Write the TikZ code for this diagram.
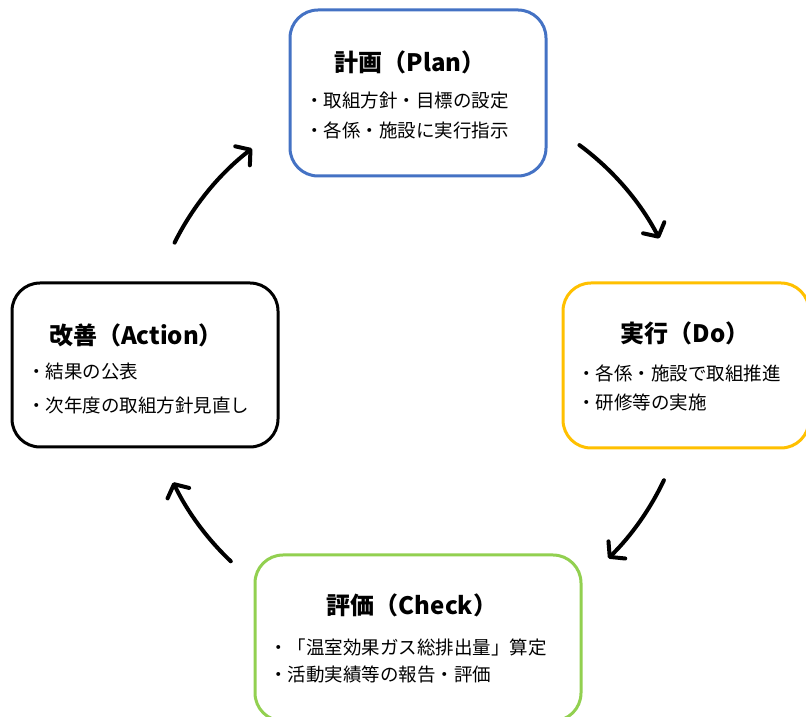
\documentclass[tikz,border=0pt]{standalone}
\usepackage{fontspec}
\setmainfont{Noto Sans CJK JP}
\usetikzlibrary{arrows.meta}
\definecolor{planblue}{HTML}{4472C4}
\definecolor{doyellow}{HTML}{FFC000}
\definecolor{checkgreen}{HTML}{92D050}
\tikzset{
  pbox/.style={draw=#1, line width=3pt, rounded corners=28pt, rectangle, inner sep=0pt, fill=white},
  ttl/.style={font=\fontsize{24}{28}\selectfont\bfseries, inner sep=0pt, anchor=center},
  itm/.style={font=\fontsize{18.5}{22}\selectfont, inner sep=0pt, anchor=west},
  cyc/.style={line width=4pt, line cap=round, -{Straight Barb[length=10pt,width=24pt,line width=4pt,line cap=round,round]}}
}
\begin{document}
\begin{tikzpicture}[x=1pt,y=1pt]
\useasboundingbox (0,0) rectangle (806,717);
\clip (0,0) rectangle (806,717);
% boxes
\node[pbox=planblue, minimum width=256pt, minimum height=166pt] (plan) at (418,624) {};
\node[pbox=doyellow, minimum width=246pt, minimum height=165pt] (do) at (686,351.5) {};
\node[pbox=black, minimum width=266pt, minimum height=164pt] (act) at (145,352) {};
\node[pbox=checkgreen, minimum width=326pt, minimum height=166pt] (chk) at (418,79) {};
% texts
\node[ttl] (planT) at (410,655) {計画（Plan）};
\node[itm] (planA) at (305,617) {・取組方針・目標の設定};
\node[itm] (planB) at (305,587) {・各係・施設に実行指示};
\node[ttl] (doT) at (685,384) {実行（Do）};
\node[itm] (doA) at (577,344) {・各係・施設で取組推進};
\node[itm] (doB) at (577,315) {・研修等の実施};
\node[ttl] (actT) at (136,382) {改善（Action）};
\node[itm] (actA) at (27,345) {・結果の公表};
\node[itm] (actB) at (27,312) {・次年度の取組方針見直し};
\node[ttl] (chkT) at (412,112) {評価（Check）};
\node[itm] (chkA) at (269,70) {・「温室効果ガス総排出量」算定};
\node[itm] (chkB) at (269,42) {・活動実績等の報告・評価};
% cycle arrows
\coordinate (ctr) at (418,353);
\path (ctr) ++(53.6:272) coordinate (s1);
\path (ctr) ++(-25.3:272) coordinate (s2);
\path (ctr) ++(226.5:272) coordinate (s3);
\path (ctr) ++(153.5:272) coordinate (s4);
\draw[cyc] (s1) arc[start angle=53.6, end angle=27.5, radius=272];
\draw[cyc] (s2) arc[start angle=-25.3, end angle=-45.6, radius=272];
\draw[cyc] (s3) arc[start angle=226.5, end angle=205.8, radius=272];
\draw[cyc] (s4) arc[start angle=153.5, end angle=127.6, radius=272];
\end{tikzpicture}
\end{document}
